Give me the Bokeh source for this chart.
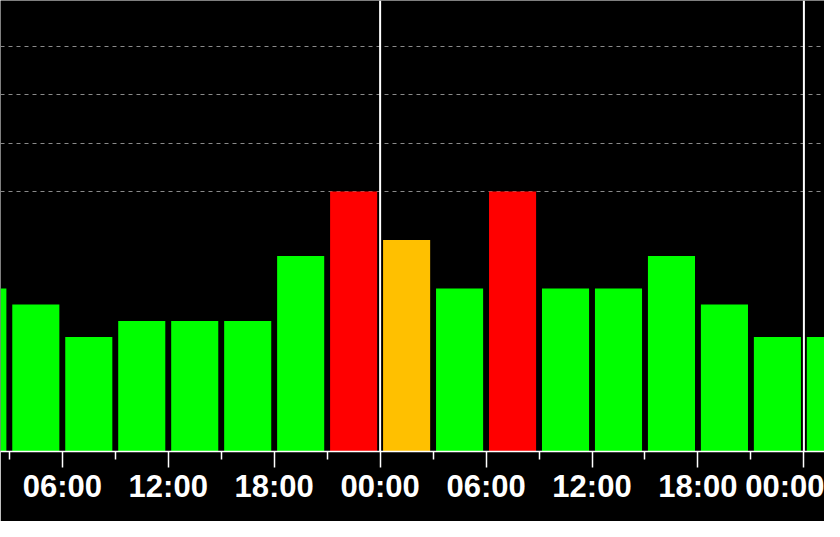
from bokeh.plotting import figure
from bokeh.models import (ColumnDataSource, LinearAxis, FixedTicker, Span, Grid, Range1d)
from bokeh.embed import file_html
from bokeh.resources import INLINE

# ---- data (Kp index, 3-hour intervals, hours since day-1 00:00) ----
period_start_hours = [0, 3, 6, 9, 12, 15, 18, 21,
                      24, 27, 30, 33, 36, 39, 42, 45,
                      48]
kp_values = [3.0, 2.67, 2.0, 2.33, 2.33, 2.33, 3.67, 5.0,
             4.0, 3.0, 5.0, 3.0, 3.0, 3.67, 2.67, 2.0,
             2.0]
major_tick_hours = [6, 12, 18, 24, 30, 36, 42, 48]
minor_tick_hours = [3, 9, 15, 21, 27, 33, 39, 45]
tick_labels = ["06:00", "12:00", "18:00", "00:00", "06:00", "12:00", "18:00", "00:00"]
day_boundaries = [24, 48]
storm_levels = [5, 6, 7, 8]

GREEN, ORANGE, RED = "#00FF00", "#FFC000", "#FF0000"
def kp_color(v):
    if v >= 5:
        return RED
    if v >= 4:
        return ORANGE
    return GREEN

PERIOD = 3.0
BAR_FRACTION = 48 / 54
AXIS_LEVEL = -0.36
Y_TOP = 8.94
FRAME_H = 451

src = ColumnDataSource(dict(
    x=[h + PERIOD / 2 for h in period_start_hours],
    top=kp_values,
    color=[kp_color(v) for v in kp_values],
))

p = figure(width=824, height=521, output_backend="svg", toolbar_location=None,
           x_axis_location=None, y_axis_location=None,
           x_range=Range1d(2.5, 49.1667), y_range=Range1d(AXIS_LEVEL, Y_TOP),
           min_border_left=0, min_border_right=0, min_border_top=0,
           min_border_bottom=521 - FRAME_H)
p.background_fill_color = "black"
p.border_fill_color = "black"
p.outline_line_color = None
p.grid.visible = False

ygrid = Grid(dimension=1, ticker=FixedTicker(ticks=storm_levels),
             grid_line_color="#8a8a8a", grid_line_dash="4 4", grid_line_width=1)
p.add_layout(ygrid, "center")

for d in day_boundaries:
    p.add_layout(Span(location=d, dimension="height", line_color="white",
                      line_width=2))

p.vbar(x="x", width=PERIOD * BAR_FRACTION, top="top", bottom=AXIS_LEVEL,
       fill_color="color", line_color=None, source=src)

xaxis = LinearAxis(ticker=FixedTicker(ticks=major_tick_hours, minor_ticks=minor_tick_hours))
xaxis.major_label_overrides = {h: lab for h, lab in zip(major_tick_hours, tick_labels)}
xaxis.axis_line_color = "white"
xaxis.axis_line_width = 1.5
xaxis.major_tick_line_color = "white"
xaxis.major_tick_line_width = 1.5
xaxis.major_tick_out = 16
xaxis.major_tick_in = 0
xaxis.minor_tick_line_color = "white"
xaxis.minor_tick_line_width = 1.5
xaxis.minor_tick_out = 8
xaxis.minor_tick_in = 0
xaxis.major_label_text_color = "white"
xaxis.major_label_text_font = "Liberation Sans"
xaxis.major_label_text_font_style = "bold"
xaxis.major_label_text_font_size = "31px"
xaxis.major_label_standoff = 1
p.add_layout(xaxis, "below")

open("out.html", "w").write(file_html(p, INLINE))
